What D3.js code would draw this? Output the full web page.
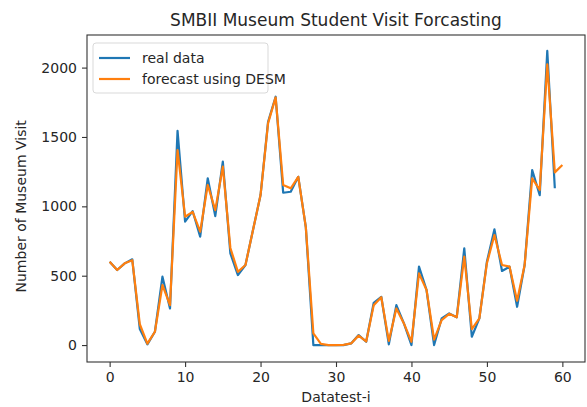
<!DOCTYPE html>
<html>
<head>
<meta charset="utf-8">
<script src="https://cdn.jsdelivr.net/npm/d3@7"></script>
<style>
  body { margin: 0; background: #fff; }
  svg text { font-family: "DejaVu Sans", sans-serif; fill: #262626; }
</style>
</head>
<body>
<div id="chart"></div>
<script>
// Real museum visits, index 0..59
var realData = [600, 541, 589, 618, 115, 5, 96, 493, 264, 1545,
                889, 966, 781, 1202, 930, 1322, 661, 505, 577, 829,
                1081, 1610, 1790, 1098, 1105, 1213, 850, 0, 0, 0,
                0, 0, 12, 72, 24, 305, 348, 5, 288, 156,
                0, 565, 397, 0, 192, 228, 200, 697, 60, 192,
                601, 834, 534, 565, 276, 577, 1262, 1081, 2120, 1130];
// DESM forecast, index 0..60 (one step ahead)
var forecastData = [600, 541, 589, 612, 150, 10, 96, 433, 288, 1406,
                    925, 960, 817, 1154, 973, 1286, 700, 528, 577, 829,
                    1081, 1600, 1785, 1154, 1130, 1213, 850, 84, 9, 0,
                    0, 2, 12, 68, 26, 288, 345, 30, 264, 156,
                    24, 517, 397, 40, 180, 225, 200, 637, 115, 192,
                    590, 793, 577, 565, 320, 577, 1202, 1118, 2024, 1245, 1298];
var xTicks = [0, 10, 20, 30, 40, 50, 60];
var yTicks = [0, 500, 1000, 1500, 2000];
var seriesNames = ['real data', 'forecast using DESM'];
var seriesColors = ['#1f77b4', '#ff7f0e'];

var width = 587, height = 407;
var margin = { top: 35, right: 2, bottom: 45, left: 87 };

var svg = d3.select('#chart').append('svg')
    .attr('width', width)
    .attr('height', height);

var x = d3.scaleLinear().domain([-3, 63]).range([margin.left, width - margin.right]);
var y = d3.scaleLinear().domain([-122, 2235]).range([height - margin.bottom, margin.top]);

// axes
var xAxis = svg.append('g')
    .attr('transform', 'translate(0,' + (height - margin.bottom) + ')')
    .call(d3.axisBottom(x).tickValues(xTicks).tickSize(5).tickPadding(5).tickSizeOuter(0));
var yAxis = svg.append('g')
    .attr('transform', 'translate(' + margin.left + ',0)')
    .call(d3.axisLeft(y).tickValues(yTicks).tickFormat(d3.format('d'))
        .tickSize(5).tickPadding(5).tickSizeOuter(0));

[xAxis, yAxis].forEach(function(g) {
    g.select('.domain').remove();
    g.selectAll('.tick line').attr('stroke', '#333').attr('stroke-width', 1.1);
    g.selectAll('.tick text').style('font-size', '14px').attr('fill', '#262626');
});

// series lines
var line = d3.line()
    .x(function(d, i) { return x(i); })
    .y(function(d) { return y(d); });

[realData, forecastData].forEach(function(series, k) {
    svg.append('path')
        .datum(series)
        .attr('d', line)
        .attr('fill', 'none')
        .attr('stroke', seriesColors[k])
        .attr('stroke-width', 2.2)
        .attr('stroke-linejoin', 'round');
});

// frame
svg.append('rect')
    .attr('x', margin.left)
    .attr('y', margin.top)
    .attr('width', width - margin.left - margin.right)
    .attr('height', height - margin.top - margin.bottom)
    .attr('fill', 'none')
    .attr('stroke', '#333')
    .attr('stroke-width', 1.1);

// title and labels
svg.append('text')
    .attr('x', (margin.left + width - margin.right) / 2)
    .attr('y', 26)
    .attr('text-anchor', 'middle')
    .style('font-size', '17px')
    .text('SMBII Museum Student Visit Forcasting');

svg.append('text')
    .attr('x', (margin.left + width - margin.right) / 2)
    .attr('y', 402)
    .attr('text-anchor', 'middle')
    .style('font-size', '14px')
    .text('Datatest-i');

svg.append('text')
    .attr('transform', 'translate(26,' + y(1000) + ') rotate(-90)')
    .attr('text-anchor', 'middle')
    .style('font-size', '14px')
    .text('Number of Museum Visit');

// legend
var legend = svg.append('g').attr('transform', 'translate(93,43)');
legend.append('rect')
    .attr('width', 175)
    .attr('height', 50)
    .attr('rx', 3)
    .attr('fill', '#fff')
    .attr('fill-opacity', 0.8)
    .attr('stroke', '#d9d9d9');
seriesNames.forEach(function(name, k) {
    var ly = 15 + k * 21;
    legend.append('line')
        .attr('x1', 6).attr('x2', 37)
        .attr('y1', ly).attr('y2', ly)
        .attr('stroke', seriesColors[k])
        .attr('stroke-width', 2.2);
    legend.append('text')
        .attr('x', 49)
        .attr('y', ly + 5)
        .style('font-size', '14px')
        .text(name);
});
</script>
</body>
</html>
